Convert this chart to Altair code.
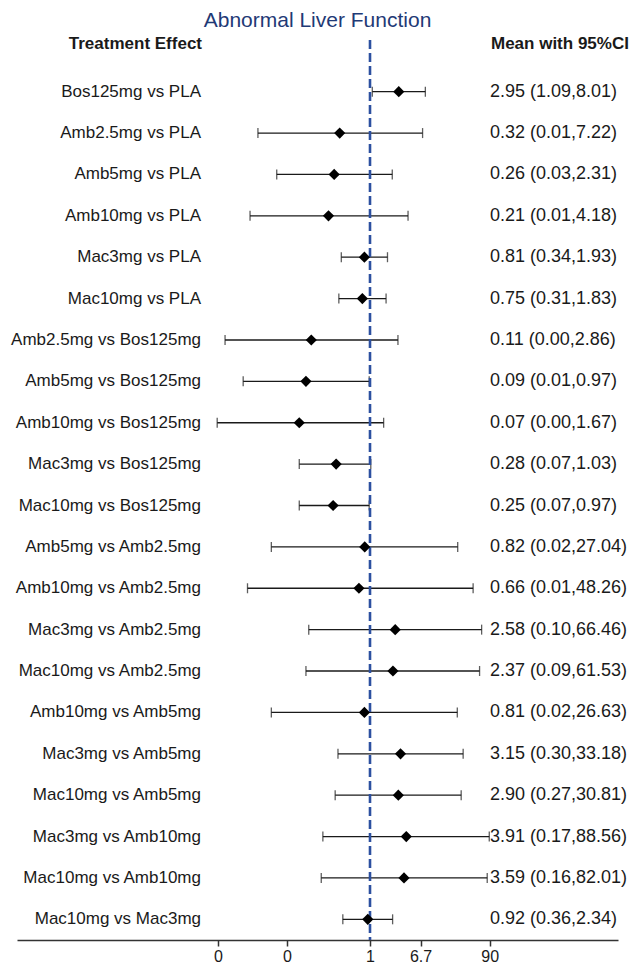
import math
import altair as alt
import pandas as pd

TITLE = "Abnormal Liver Function"
HEAD_LEFT = "Treatment Effect"
HEAD_RIGHT = "Mean with 95%CI"

LABELS = [
    "Bos125mg vs PLA", "Amb2.5mg vs PLA", "Amb5mg vs PLA", "Amb10mg vs PLA",
    "Mac3mg vs PLA", "Mac10mg vs PLA", "Amb2.5mg vs Bos125mg", "Amb5mg vs Bos125mg",
    "Amb10mg vs Bos125mg", "Mac3mg vs Bos125mg", "Mac10mg vs Bos125mg",
    "Amb5mg vs Amb2.5mg", "Amb10mg vs Amb2.5mg", "Mac3mg vs Amb2.5mg",
    "Mac10mg vs Amb2.5mg", "Amb10mg vs Amb5mg", "Mac3mg vs Amb5mg",
    "Mac10mg vs Amb5mg", "Mac3mg vs Amb10mg", "Mac10mg vs Amb10mg",
    "Mac10mg vs Mac3mg",
]
MEAN = [2.95, 0.32, 0.26, 0.21, 0.81, 0.75, 0.11, 0.09, 0.07, 0.28, 0.25,
        0.82, 0.66, 2.58, 2.37, 0.81, 3.15, 2.90, 3.91, 3.59, 0.92]
LOW = [1.09, 0.0148, 0.03, 0.011, 0.34, 0.31, 0.0043, 0.0085, 0.0032, 0.07, 0.07,
       0.0245, 0.01, 0.10, 0.09, 0.0245, 0.30, 0.27, 0.17, 0.16, 0.36]
HIGH = [8.01, 7.22, 2.31, 4.18, 1.93, 1.83, 2.86, 0.97, 1.67, 1.03, 0.97,
        27.04, 48.26, 66.46, 61.53, 26.63, 33.18, 30.81, 88.56, 82.01, 2.34]

TICK_VALUES = [0.0033, 0.044, 1, 6.7, 90]
TICK_LABELS = ["0", "0", "1", "6.7", "90"]

df = pd.DataFrame({"label": LABELS, "mean": MEAN, "low": LOW, "high": HIGH})
df["txt"] = [f"{m:.2f} ({l:.2f},{h:.2f})" for m, l, h in zip(MEAN, LOW, HIGH)]

# label expression built from the tick lists
expr = "''"
for v, lab in reversed(list(zip(TICK_VALUES, TICK_LABELS))):
    expr = f"(abs(datum.value - {v}) < {v}*0.01 ? '{lab}' : {expr})"

W, H = 601, 869
PX_PER_LN = 26.6
ONE_AT = 353
dom = [math.exp(-ONE_AT / PX_PER_LN), math.exp((W - ONE_AT) / PX_PER_LN)]

FONT = "Liberation Sans"
INK = "#1a1a1a"

xscale = alt.Scale(type="log", domain=dom, nice=False, zero=False)
yenc = alt.Y("label:N", sort=LABELS, axis=None,
             scale=alt.Scale(type="point", padding=0.5))

base = alt.Chart(df)

ci = base.mark_rule(color=INK, strokeWidth=1.3).encode(
    x=alt.X("low:Q", scale=xscale,
            axis=alt.Axis(title="", values=TICK_VALUES, labelExpr=expr, grid=False,
                          domainColor="#333333", domainWidth=1.5, tickColor="#333333",
                          tickWidth=1.5, tickSize=6, labelFontSize=16, labelColor=INK,
                          labelFont=FONT, labelPadding=2, labelFlush=False,
                          labelOverlap=False)),
    x2="high:Q",
    y=yenc,
)
cap_lo = base.mark_tick(color=INK, thickness=1.3, size=10).encode(x="low:Q", y=yenc)
cap_hi = base.mark_tick(color=INK, thickness=1.3, size=10).encode(x="high:Q", y=yenc)
pts = base.mark_point(shape="diamond", filled=True, color="black", size=125, opacity=1).encode(
    x="mean:Q", y=yenc)

ref = alt.Chart(pd.DataFrame({"v": [1]})).mark_rule(
    color="#2C50A0", strokeWidth=2.6, strokeDash=[9, 4]
).encode(x="v:Q", y=alt.value(-31), y2=alt.value(H))

lab_txt = base.mark_text(align="right", baseline="middle", font=FONT, fontSize=17,
                         color=INK).encode(x=alt.value(184), y=yenc, text="label:N")
val_txt = base.mark_text(align="left", baseline="middle", font=FONT, fontSize=18,
                         color=INK).encode(x=alt.value(473), y=yenc, text="txt:N")

tdf = pd.DataFrame({"t": [TITLE], "hl": [HEAD_LEFT], "hr": [HEAD_RIGHT]})
title = alt.Chart(tdf).mark_text(align="center", baseline="middle", font=FONT,
                                 fontSize=21, color="#1F3A76").encode(
    x=alt.value(W / 2), y=alt.value(-50), text="t:N")
head_l = alt.Chart(tdf).mark_text(align="right", baseline="middle", font=FONT,
                                  fontSize=17, fontWeight="bold", color=INK).encode(
    x=alt.value(185), y=alt.value(-27), text="hl:N")
head_r = alt.Chart(tdf).mark_text(align="left", baseline="middle", font=FONT,
                                  fontSize=17, fontWeight="bold", color=INK).encode(
    x=alt.value(474), y=alt.value(-27), text="hr:N")

chart = alt.layer(ci, cap_lo, cap_hi, ref, pts, lab_txt, val_txt, title, head_l, head_r).properties(
    width=W, height=H,
    background="white",
    autosize=alt.AutoSizeParams(type="none"),
    padding={"left": 9, "top": 63, "right": 14, "bottom": 28},
).configure_view(strokeWidth=0, stroke="transparent")

chart.save("out.html", embed_options={"renderer": "svg", "actions": False})
